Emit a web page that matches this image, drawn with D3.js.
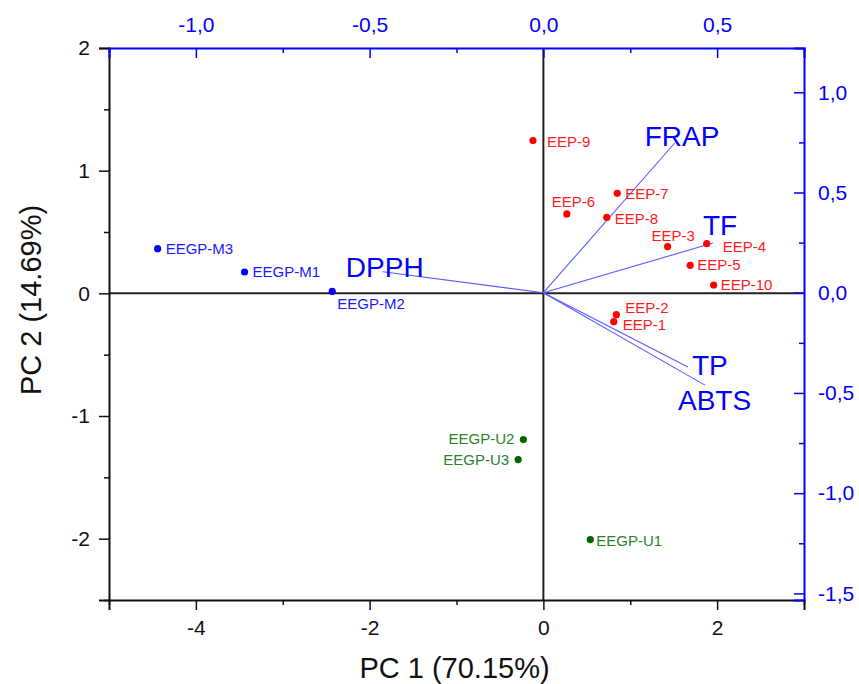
<!DOCTYPE html>
<html>
<head>
<meta charset="utf-8">
<script src="https://cdn.jsdelivr.net/npm/d3@7"></script>
<style>
  html, body { margin: 0; padding: 0; background: #fff; }
  svg { display: block; font-family: "Liberation Sans", Arial, sans-serif; }
</style>
</head>
<body>
<svg id="chart" width="859" height="684"></svg>
<script>
// ---------------- DATA ----------------
// Scores (PC1, PC2)
const scoreNames = ["EEP-9","EEP-7","EEP-6","EEP-8","EEP-3","EEP-4","EEP-5","EEP-10","EEP-2","EEP-1",
                    "EEGP-M3","EEGP-M1","EEGP-M2","EEGP-U2","EEGP-U3","EEGP-U1"];
const scorePC1 = [-0.12, 0.85, 0.27, 0.73, 1.43, 1.88, 1.69, 1.96, 0.84, 0.81,
                  -4.44, -3.44, -2.43, -0.23, -0.29, 0.54];
const scorePC2 = [1.245, 0.815, 0.647, 0.619, 0.381, 0.405, 0.228, 0.068, -0.174, -0.231,
                  0.364, 0.174, 0.016, -1.192, -1.355, -2.007];
const scoreGroup = ["EEP","EEP","EEP","EEP","EEP","EEP","EEP","EEP","EEP","EEP",
                    "M","M","M","U","U","U"];

// Loadings
const loadingNames = ["FRAP","TF","DPPH","TP","ABTS"];
const loadingPC1 = [0.378, 0.488, -0.462, 0.416, 0.465];
const loadingPC2 = [0.747, 0.248, 0.105, -0.371, -0.461];

// Tick values
const bottomTicks = [-4, -2, 0, 2];
const bottomMinor = [-5, -3, -1, 1, 3];
const leftTicks = [-2, -1, 0, 1, 2];
const leftMinor = [-2.5, -1.5, -0.5, 0.5, 1.5];
const topTicks = [-1.0, -0.5, 0.0, 0.5];
const topMinor = [-1.25, -0.75, -0.25, 0.25, 0.75];
const rightTicks = [1.0, 0.5, 0.0, -0.5, -1.0, -1.5];
const rightMinor = [0.75, 0.25, -0.25, -0.75, -1.25];

const xTitle = "PC 1 (70.15%)";
const yTitle = "PC 2 (14.69%)";

// ---------------- LAYOUT / STYLE ----------------
const L = 109, R = 804, T = 48, B = 600;
const groupColor = { EEP: "#ff0000", M: "#0000ff", U: "#006400" };
const groupTextColor = { EEP: "#ff1a1a", M: "#1a1aff", U: "#2a832a" };
// label placement: [dx, dy, anchor]
const labelPlace = {
  "EEP-9": [14, 6, "start"], "EEP-7": [8, 6, "start"], "EEP-6": [-15, -7, "start"],
  "EEP-8": [8, 7, "start"], "EEP-3": [-16, -6, "start"], "EEP-4": [16, 8, "start"],
  "EEP-5": [7, 5, "start"], "EEP-10": [7, 5, "start"], "EEP-2": [9, -2, "start"],
  "EEP-1": [9, 8, "start"], "EEGP-M3": [8, 5, "start"], "EEGP-M1": [8, 5, "start"],
  "EEGP-M2": [5, 18, "start"], "EEGP-U2": [-9, 4, "end"], "EEGP-U3": [-9, 5, "end"],
  "EEGP-U1": [6, 6, "start"]
};
const loadPlace = {
  "FRAP": [-30, 3], "TF": [-10, -8], "DPPH": [-37, 5], "TP": [4, 8], "ABTS": [-27, 25]
};

const fmtComma = d => d3.format(".1f")(d).replace(".", ",").replace("−", "-");

const svg = d3.select("#chart");

const x = d3.scaleLinear().domain([-5, 3]).range([L, R]);
const y = d3.scaleLinear().domain([-2.5, 2]).range([B, T]);
const x2 = d3.scaleLinear().domain([-1.25, 0.75]).range([L, R]);
const y2 = d3.scaleLinear().domain([-1.533, 1.221]).range([B, T]);

// zero lines
svg.append("line").attr("x1", L).attr("x2", R).attr("y1", y(0)).attr("y2", y(0))
  .attr("stroke", "#222").attr("stroke-width", 2);
svg.append("line").attr("x1", x(0)).attr("x2", x(0)).attr("y1", T).attr("y2", B)
  .attr("stroke", "#222").attr("stroke-width", 2);

function styleAxis(g, color, fontSize) {
  g.select(".domain").attr("stroke", color).attr("stroke-width", 2);
  g.selectAll(".tick line").attr("stroke", color).attr("stroke-width", 1.5);
  g.selectAll(".tick text").attr("fill", color).style("font-size", fontSize + "px")
    .style("font-family", "'Liberation Sans', Arial, sans-serif");
}

// bottom axis
const gB = svg.append("g").attr("transform", `translate(0,${B})`)
  .call(d3.axisBottom(x).tickValues(bottomTicks).tickSize(10).tickPadding(10)
    .tickFormat(d => String(d).replace("−", "-")));
styleAxis(gB, "#111", 21);
const gBm = svg.append("g").attr("transform", `translate(0,${B})`)
  .call(d3.axisBottom(x).tickValues(bottomMinor).tickSize(5).tickFormat(""));
styleAxis(gBm, "#111", 21); gBm.select(".domain").remove();

// left axis
const gL = svg.append("g").attr("transform", `translate(${L},0)`)
  .call(d3.axisLeft(y).tickValues(leftTicks).tickSize(10).tickPadding(9)
    .tickFormat(d => String(d).replace("−", "-")));
styleAxis(gL, "#111", 21);
const gLm = svg.append("g").attr("transform", `translate(${L},0)`)
  .call(d3.axisLeft(y).tickValues(leftMinor).tickSize(5).tickFormat(""));
styleAxis(gLm, "#111", 21); gLm.select(".domain").remove();

// top axis (blue, inward ticks)
const gT = svg.append("g").attr("transform", `translate(0,${T})`)
  .call(d3.axisTop(x2).tickValues(topTicks).tickSize(-10).tickPadding(0).tickFormat(fmtComma));
styleAxis(gT, "#0000ff", 21);
gT.selectAll(".tick text").attr("y", -16);
const gTm = svg.append("g").attr("transform", `translate(0,${T})`)
  .call(d3.axisTop(x2).tickValues(topMinor).tickSize(-5).tickFormat(""));
styleAxis(gTm, "#0000ff", 21); gTm.select(".domain").remove();

// right axis (blue, inward ticks)
const gR = svg.append("g").attr("transform", `translate(${R},0)`)
  .call(d3.axisRight(y2).tickValues(rightTicks).tickSize(-10).tickPadding(0).tickFormat(fmtComma));
styleAxis(gR, "#0000ff", 21);
gR.selectAll(".tick text").attr("x", 14);
const gRm = svg.append("g").attr("transform", `translate(${R},0)`)
  .call(d3.axisRight(y2).tickValues(rightMinor).tickSize(-5).tickFormat(""));
styleAxis(gRm, "#0000ff", 21); gRm.select(".domain").remove();

// loadings vectors
const loadings = loadingNames.map((n, i) => ({ name: n, px: loadingPC1[i], py: loadingPC2[i] }));
svg.append("g").selectAll("line").data(loadings).join("line")
  .attr("x1", x2(0)).attr("y1", y2(0))
  .attr("x2", d => x2(d.px)).attr("y2", d => y2(d.py))
  .attr("stroke", "#5a5aff").attr("stroke-width", 1.1);
svg.append("g").selectAll("text").data(loadings).join("text")
  .attr("x", d => x2(d.px) + loadPlace[d.name][0])
  .attr("y", d => y2(d.py) + loadPlace[d.name][1])
  .attr("fill", "#0000ff").style("font-size", "28px")
  .text(d => d.name);

// scores
const scores = scoreNames.map((n, i) => ({ name: n, px: scorePC1[i], py: scorePC2[i], g: scoreGroup[i] }));
svg.append("g").selectAll("circle").data(scores).join("circle")
  .attr("cx", d => x(d.px)).attr("cy", d => y(d.py)).attr("r", 3.6)
  .attr("fill", d => groupColor[d.g]);
svg.append("g").selectAll("text").data(scores).join("text")
  .attr("x", d => x(d.px) + labelPlace[d.name][0])
  .attr("y", d => y(d.py) + labelPlace[d.name][1])
  .attr("text-anchor", d => labelPlace[d.name][2])
  .attr("fill", d => groupTextColor[d.g]).style("font-size", "15px")
  .text(d => d.name);

// axis titles
svg.append("text").attr("x", (L + R) / 2 - 2).attr("y", 678)
  .attr("text-anchor", "middle").attr("fill", "#111").style("font-size", "29px").text(xTitle);
svg.append("text").attr("transform", `translate(41,300) rotate(-90)`)
  .attr("text-anchor", "middle").attr("fill", "#111").style("font-size", "29px").text(yTitle);
</script>
</body>
</html>
